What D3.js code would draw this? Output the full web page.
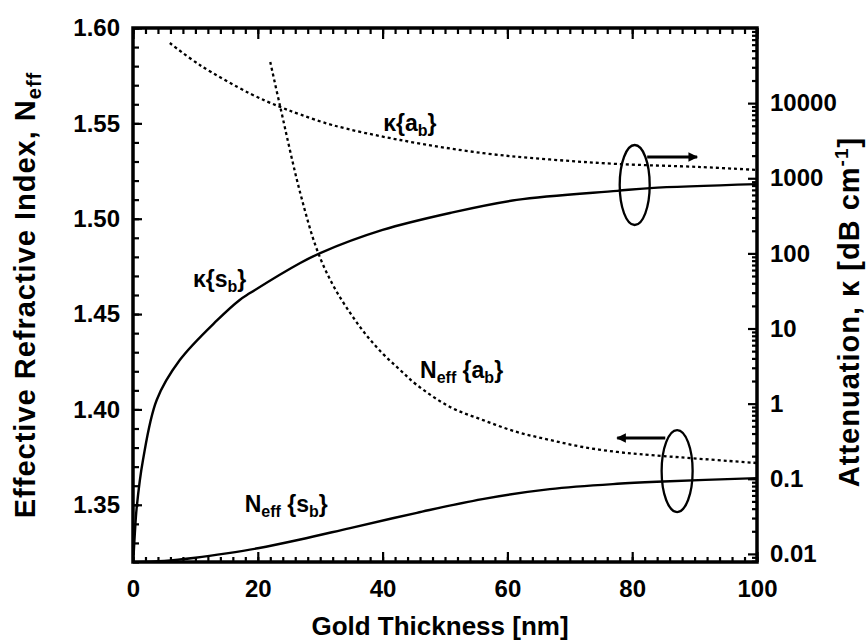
<!DOCTYPE html>
<html><head><meta charset="utf-8">
<script src="https://cdn.jsdelivr.net/npm/d3@7"></script>
<style>
body{margin:0;background:#fff}
svg{display:block}
text{font-family:"Liberation Sans",Arial,Helvetica,sans-serif;font-weight:bold;fill:#000}
</style>
</head><body>
<svg id="chart" width="866" height="644"></svg>
<script>
// ---------- data ----------
const xMajorTicks = [0, 20, 40, 60, 80, 100];
const xMinorTicks = d3.range(0, 101, 2);
const nMajorTicks = [1.35, 1.40, 1.45, 1.50, 1.55, 1.60];
const nMinorTicks = d3.range(132, 161, 1).map(v => v / 100);
const kMajorTicks = [0.01, 0.1, 1, 10, 100, 1000, 10000];
const kTickLabels = ["0.01", "0.1", "1", "10", "100", "1000", "10000"];

// kappa{a_b} (dotted, right log axis)
const kabThick = [5.9, 10.7, 18.75, 23.6, 26.8, 32, 42.8, 56.1, 66.8, 77.6, 91, 100];
const kabVal   = [63100, 32200, 13400, 8890, 7070, 5090, 3230, 2160, 1780, 1550, 1410, 1290];
// kappa{s_b} (solid, right log axis)
const ksbThick = [0.1, 0.3, 0.6, 1.6, 3.8, 7.5, 13.5, 17.1, 18.75, 26.8, 30, 40, 50.8, 61.5, 77.6, 82.9, 100];
const ksbVal   = [0.0097, 0.019, 0.042, 0.178, 1.12, 3.8, 12.9, 24, 29.6, 74.5, 101, 205, 345, 515, 680, 740, 835];
// Neff{a_b} (dotted, left axis)
const nabThick = [22, 23.6, 26.8, 29.5, 32, 34.8, 37.5, 40.1, 42.8, 45.5, 50.8, 56.1, 61.5, 66.8, 72.1, 77.6, 82.9, 100];
const nabVal   = [1.5822, 1.5586, 1.5135, 1.4836, 1.4655, 1.4506, 1.4385, 1.4290, 1.4207, 1.4128, 1.4013, 1.3944, 1.3882, 1.3840, 1.3803, 1.3777, 1.3761, 1.3719];
// Neff{s_b} (solid, left axis)
const nsbThick = [0, 5, 10, 15, 20, 26.8, 34.8, 45.5, 56, 66.8, 77.6, 85, 100];
const nsbVal   = [1.3198, 1.3205, 1.3222, 1.3245, 1.3272, 1.3318, 1.3378, 1.3458, 1.3530, 1.3582, 1.3610, 1.3622, 1.3640];

// ---------- layout ----------
const L = 133, R = 757, T = 28, B = 562;
const svg = d3.select("#chart");
const x = d3.scaleLinear().domain([0, 100]).range([L, R]);
const yN = d3.scaleLinear().domain([1.32, 1.60]).range([B, T]);
const yK = d3.scaleLog().domain([0.0078, 1e5]).range([B, T]);

const defs = svg.append("defs");
defs.append("clipPath").attr("id", "plotclip")
  .append("rect").attr("x", L).attr("y", T).attr("width", R - L).attr("height", B - T);
defs.append("marker").attr("id", "arrow").attr("viewBox", "0 0 10 10")
  .attr("refX", 9).attr("refY", 5).attr("markerWidth", 4).attr("markerHeight", 3.2)
  .attr("orient", "auto").attr("markerUnits", "strokeWidth")
  .append("path").attr("d", "M0,0 L10,5 L0,10 Z").attr("fill", "#000");

function styleAxis(g) {
  g.select(".domain").remove();
  g.selectAll("line").attr("stroke", "#000").attr("stroke-width", 2.2);
  g.selectAll("text").attr("font-size", 24).attr("font-family", null).attr("fill", "#000");
}

// bottom axis
svg.append("g").attr("transform", `translate(0,${B})`)
  .call(d3.axisBottom(x).tickValues(xMinorTicks).tickSize(-5).tickFormat(""))
  .call(styleAxis);
svg.append("g").attr("transform", `translate(0,${B})`)
  .call(d3.axisBottom(x).tickValues(xMajorTicks).tickSize(-10).tickPadding(18).tickFormat(d3.format("d")))
  .call(styleAxis);
// top axis
svg.append("g").attr("transform", `translate(0,${T})`)
  .call(d3.axisTop(x).tickValues(xMinorTicks).tickSize(-6).tickFormat(""))
  .call(styleAxis);
svg.append("g").attr("transform", `translate(0,${T})`)
  .call(d3.axisTop(x).tickValues(xMajorTicks).tickSize(-11).tickFormat(""))
  .call(styleAxis);
// left axis
svg.append("g").attr("transform", `translate(${L},0)`)
  .call(d3.axisLeft(yN).tickValues(nMinorTicks).tickSize(-6).tickFormat(""))
  .call(styleAxis);
svg.append("g").attr("transform", `translate(${L},0)`)
  .call(d3.axisLeft(yN).tickValues(nMajorTicks).tickSize(-9).tickPadding(13).tickFormat(d3.format(".2f")))
  .call(styleAxis);
// right axis (log)
const kMinor = [];
[0.001, 0.01, 0.1, 1, 10, 100, 1000, 10000].forEach(d => {
  for (let i = 2; i <= 9; i++) { const v = d * i; if (v >= 0.0078 && v <= 1e5) kMinor.push(v); }
});
svg.append("g").attr("transform", `translate(${R},0)`)
  .call(d3.axisRight(yK).tickValues(kMinor).tickSize(-5).tickFormat(""))
  .call(styleAxis);
svg.append("g").attr("transform", `translate(${R},0)`)
  .call(d3.axisRight(yK).tickValues(kMajorTicks).tickSize(-9).tickPadding(13)
    .tickFormat((d, i) => kTickLabels[i]))
  .call(styleAxis);

// frame
svg.append("rect").attr("x", L).attr("y", T).attr("width", R - L).attr("height", B - T)
  .attr("fill", "none").attr("stroke", "#000").attr("stroke-width", 3.5);

// ---------- curves ----------
const plot = svg.append("g").attr("clip-path", "url(#plotclip)");
function drawCurve(xs, ys, yScale, dashed) {
  const pts = xs.map((d, i) => [x(d), yScale(ys[i])]);
  plot.append("path").datum(pts)
    .attr("d", d3.line().curve(d3.curveCatmullRom.alpha(0.5)))
    .attr("fill", "none").attr("stroke", "#000")
    .attr("stroke-width", dashed ? 2.3 : 2.4)
    .attr("stroke-dasharray", dashed ? "3,3" : null);
}
drawCurve(kabThick, kabVal, yK, true);
drawCurve(ksbThick, ksbVal, yK, false);
drawCurve(nabThick, nabVal, yN, true);
drawCurve(nsbThick, nsbVal, yN, false);

// ---------- curve labels ----------
function curveLabel(px, py, parts) {
  const t = svg.append("text").attr("x", px).attr("y", py).attr("font-size", 23);
  parts.forEach(p => {
    t.append("tspan").text(p.t).attr("font-size", p.s ? 16 : 23).attr("dy", p.dy || 0);
  });
}
curveLabel(x(40.1), yK(4256), [{t:"κ{a"},{t:"b",s:true,dy:5},{t:"}",dy:-5}]);
curveLabel(x(9.6), yK(35.7), [{t:"κ{s"},{t:"b",s:true,dy:5},{t:"}",dy:-5}]);
curveLabel(x(46), yN(1.4165), [{t:"N"},{t:"eff",s:true,dy:5},{t:" {a",dy:-5},{t:"b",s:true,dy:5},{t:"}",dy:-5}]);
curveLabel(x(17.9), yN(1.3462), [{t:"N"},{t:"eff",s:true,dy:5},{t:" {s",dy:-5},{t:"b",s:true,dy:5},{t:"}",dy:-5}]);

// ---------- ellipses & arrows ----------
svg.append("ellipse").attr("cx", x(80.4)).attr("cy", yK(813)).attr("rx", 15).attr("ry", 40)
  .attr("fill", "none").attr("stroke", "#000").attr("stroke-width", 2.3);
svg.append("ellipse").attr("cx", x(87.2)).attr("cy", yN(1.3677)).attr("rx", 15.5).attr("ry", 41)
  .attr("fill", "none").attr("stroke", "#000").attr("stroke-width", 2.3);
svg.append("line").attr("x1", x(82.4)).attr("y1", yK(1919)).attr("x2", x(90.4)).attr("y2", yK(1919))
  .attr("stroke", "#000").attr("stroke-width", 3).attr("marker-end", "url(#arrow)");
svg.append("line").attr("x1", x(85.3)).attr("y1", yN(1.385)).attr("x2", x(77.6)).attr("y2", yN(1.385))
  .attr("stroke", "#000").attr("stroke-width", 3).attr("marker-end", "url(#arrow)");

// ---------- axis titles ----------
svg.append("text").attr("x", 440).attr("y", 635).attr("text-anchor", "middle")
  .attr("font-size", 26).text("Gold Thickness [nm]");

const lt = svg.append("text").attr("transform", `translate(35,${(T + B) / 2}) rotate(-90)`)
  .attr("text-anchor", "middle").attr("font-size", 29).attr("letter-spacing", 1);
lt.append("tspan").text("Effective Refractive Index, N");
lt.append("tspan").text("eff").attr("font-size", 20).attr("dy", 6);

const rt = svg.append("text").attr("transform", `translate(859,312) rotate(-90)`)
  .attr("text-anchor", "middle").attr("font-size", 29).attr("letter-spacing", 1);
rt.append("tspan").text("Attenuation, κ [dB cm");
rt.append("tspan").text("-1").attr("font-size", 19).attr("dy", -11);
rt.append("tspan").text("]").attr("dy", 11);
</script>
</body></html>
